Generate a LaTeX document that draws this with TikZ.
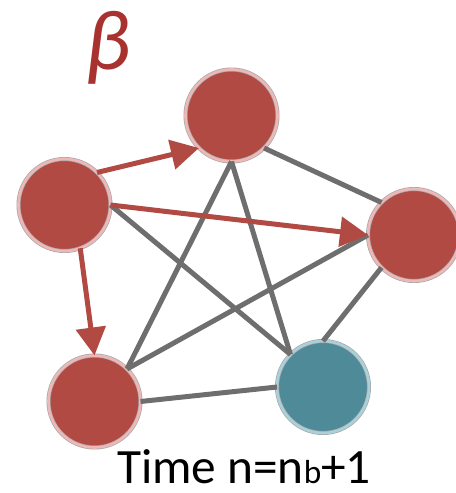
\documentclass[tikz,border=0pt]{standalone}
\usepackage{fontspec}
\setmainfont{Carlito}
\usepackage{tikz}
\usetikzlibrary{arrows.meta}
\definecolor{nodered}{RGB}{178, 74, 68}
\definecolor{ringred}{RGB}{236, 184, 184}
\definecolor{nodeteal}{RGB}{79, 138, 153}
\definecolor{ringteal}{RGB}{170, 208, 218}
\definecolor{edgegray}{RGB}{110, 110, 110}
\definecolor{betared}{RGB}{168, 50, 48}

\begin{document}
\begin{tikzpicture}[x=0.75pt, y=-0.75pt,
  agent/.style={circle, inner sep=0pt, outer sep=0pt, minimum size=69pt, fill=nodered, draw=black!35, line width=0.5pt, double=ringred, double distance=2pt},
  target/.style={agent, fill=nodeteal, double=ringteal},
  link/.style={draw=edgegray, line width=3.75pt},
  infl/.style={draw=nodered, line width=3.75pt, -{Triangle[length=21pt, width=22pt]}}]
 \useasboundingbox (0,0) rectangle (456,493);

 \node[agent] (top) at (231.5,115.5) {};
 \node[agent] (left) at (64.5,205) {};
 \node[agent] (right) at (414,235) {};
 \node[agent] (bl) at (94.5,401.5) {};
 \node[target] (teal) at (323,387) {};

 \node[text=betared, inner sep=0pt, font=\fontsize{64}{64}\selectfont\itshape] (beta) at (108,48) {β};
 \node[anchor=base, inner sep=0pt, font=\fontsize{37}{37}\selectfont] (time) at (244,483) {Time n=n{\fontsize{25}{25}\selectfont b}+1};

 \draw[link] (top.south east) -- (right.north west);
 \draw[link] (top.south) -- (bl.north east);
 \draw[link] (top.south) -- (teal.north west);
 \draw[link] (left.east) -- (teal.north west);
 \draw[link] (right.west) -- (bl.north east);
 \draw[link] (right.south west) -- (teal.north);
 \draw[link] (bl.east) -- (teal.west);

 \draw[infl] (left.north east) -- (top.south west);
 \draw[infl] (left.east) -- (right.west);
 \draw[infl] (left.-70) -- (bl.north);
\end{tikzpicture}
\end{document}
